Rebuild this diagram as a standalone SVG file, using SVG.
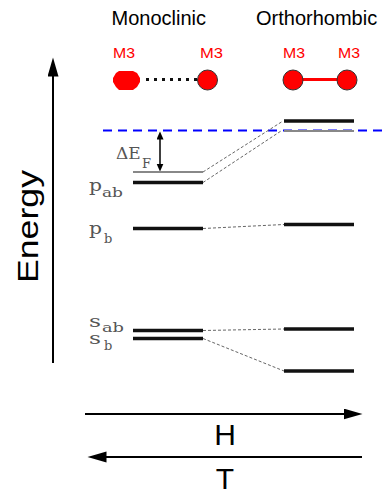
<svg xmlns="http://www.w3.org/2000/svg" width="382" height="494" viewBox="0 0 382 494">
<style>
.title{font-family:"Liberation Sans",Arial,sans-serif;font-size:20px;fill:#000}
.atomlbl{font-family:"Liberation Sans",Arial,sans-serif;font-size:15px;fill:#ff0000}
.big{font-family:"Liberation Sans",Arial,sans-serif;font-size:30px;fill:#000}
.lbl{font-family:"DejaVu Serif","Liberation Serif",serif;font-size:17px;fill:#555}
.sub{font-family:"DejaVu Serif","Liberation Serif",serif;font-size:13px;fill:#555}
.lvl{stroke:#111;stroke-width:3.5}
.thin{stroke:#888;stroke-width:2}
.conn{stroke:#666;stroke-width:1;stroke-dasharray:3 2;fill:none}
.axis{stroke:#000;stroke-width:2;fill:none}
.atom{fill:#ff0000;stroke:#333;stroke-width:1}
</style>
<defs>
<marker id="ah" markerUnits="userSpaceOnUse" markerWidth="20" markerHeight="12" refX="0.5" refY="5.5" orient="auto-start-reverse">
<path d="M0,0 L19,5.5 L0,11 z" fill="#000"/>
</marker>
<marker id="as" markerUnits="userSpaceOnUse" markerWidth="9" markerHeight="8" refX="0.5" refY="3.5" orient="auto-start-reverse">
<path d="M0,0 L8,3.5 L0,7 z" fill="#000"/>
</marker>
</defs>

<g id="title-monoclinic"><text class="title" x="111.5" y="25">Monoclinic</text></g>
<g id="title-orthorhombic"><text class="title" x="256" y="25">Orthorhombic</text></g>

<g id="mono-atoms">
<text class="atomlbl" x="113" y="58" textLength="22" lengthAdjust="spacingAndGlyphs">M3</text>
<text class="atomlbl" x="200" y="58" textLength="23" lengthAdjust="spacingAndGlyphs">M3</text>
<line x1="146" y1="79.5" x2="198" y2="79.5" stroke="#111" stroke-width="3" stroke-dasharray="3 5"/>
<path d="M119,71 L133,71 L137,73 L140,78 L140,82 L137,87 L133,90 L119,90 L116,87 L113,82 L113,78 L116,73 z" fill="#ff0000"/>
<circle class="atom" cx="207.5" cy="80" r="10"/>
</g>

<g id="ortho-atoms">
<text class="atomlbl" x="283" y="58" textLength="22" lengthAdjust="spacingAndGlyphs">M3</text>
<text class="atomlbl" x="338" y="58" textLength="22" lengthAdjust="spacingAndGlyphs">M3</text>
<line x1="293" y1="79.5" x2="347" y2="79.5" stroke="#ff0000" stroke-width="3"/>
<circle class="atom" cx="293" cy="80" r="10"/>
<circle class="atom" cx="347" cy="80" r="10"/>
</g>

<g id="energy-axis">
<line class="axis" x1="53" y1="363" x2="53" y2="76" marker-end="url(#ah)"/>
<text class="big" transform="translate(38,226.5) rotate(-90)" text-anchor="middle" font-size="29" textLength="113" lengthAdjust="spacingAndGlyphs">Energy</text>
</g>

<g id="fermi-level">
<line x1="103" y1="130.5" x2="382" y2="130.5" stroke="#0000ff" stroke-width="2" stroke-dasharray="9 6"/>
</g>

<g id="delta-ef">
<line x1="160" y1="139" x2="160" y2="164" stroke="#000" stroke-width="1.5" marker-start="url(#as)" marker-end="url(#as)"/>
<text class="lbl" x="116" y="159" font-size="16">ΔE</text>
<text class="sub" x="142" y="168">F</text>
</g>

<g id="mono-levels">
<line class="thin" x1="133" y1="172" x2="203" y2="172"/>
<line class="lvl" x1="133" y1="182.5" x2="203" y2="182.5"/>
<line class="lvl" x1="133" y1="228.5" x2="203" y2="228.5"/>
<line class="lvl" x1="133" y1="330.5" x2="203" y2="330.5"/>
<line class="lvl" x1="133" y1="338.5" x2="203" y2="338.5"/>
</g>

<g id="ortho-levels">
<line class="lvl" x1="284" y1="121" x2="354" y2="121"/>
<line class="thin" x1="284" y1="131" x2="354" y2="131" stroke-width="1.5"/>
<line class="lvl" x1="284" y1="224.5" x2="354" y2="224.5"/>
<line class="lvl" x1="284" y1="329" x2="354" y2="329"/>
<line class="lvl" x1="284" y1="371" x2="354" y2="371"/>
</g>

<g id="labels">
<text class="lbl" x="89" y="191" textLength="13" lengthAdjust="spacingAndGlyphs">p</text>
<text class="sub" x="102" y="196.5" textLength="21" lengthAdjust="spacingAndGlyphs">ab</text>
<text class="lbl" x="89" y="234" textLength="13" lengthAdjust="spacingAndGlyphs">p</text>
<text class="sub" x="104" y="243">b</text>
<text class="lbl" x="89" y="327" textLength="12" lengthAdjust="spacingAndGlyphs">s</text>
<text class="sub" x="102" y="332" textLength="22" lengthAdjust="spacingAndGlyphs">ab</text>
<text class="lbl" x="89" y="343.5" textLength="12" lengthAdjust="spacingAndGlyphs">s</text>
<text class="sub" x="104" y="350">b</text>
</g>

<g id="connectors">
<line class="conn" x1="203" y1="172" x2="283" y2="121"/>
<line class="conn" x1="203" y1="182.5" x2="281" y2="131"/>
<line class="conn" x1="203" y1="228.5" x2="284" y2="224.5"/>
<line class="conn" x1="203" y1="330.5" x2="284" y2="329"/>
<line class="conn" x1="203" y1="338.5" x2="284" y2="371"/>
</g>

<g id="h-arrow">
<line class="axis" x1="85" y1="414" x2="344" y2="414" marker-end="url(#ah)"/>
<text class="big" x="225" y="445" text-anchor="middle">H</text>
</g>

<g id="t-arrow">
<line class="axis" x1="362" y1="457" x2="106" y2="457" marker-end="url(#ah)"/>
<text class="big" x="225" y="489" text-anchor="middle">T</text>
</g>
</svg>
